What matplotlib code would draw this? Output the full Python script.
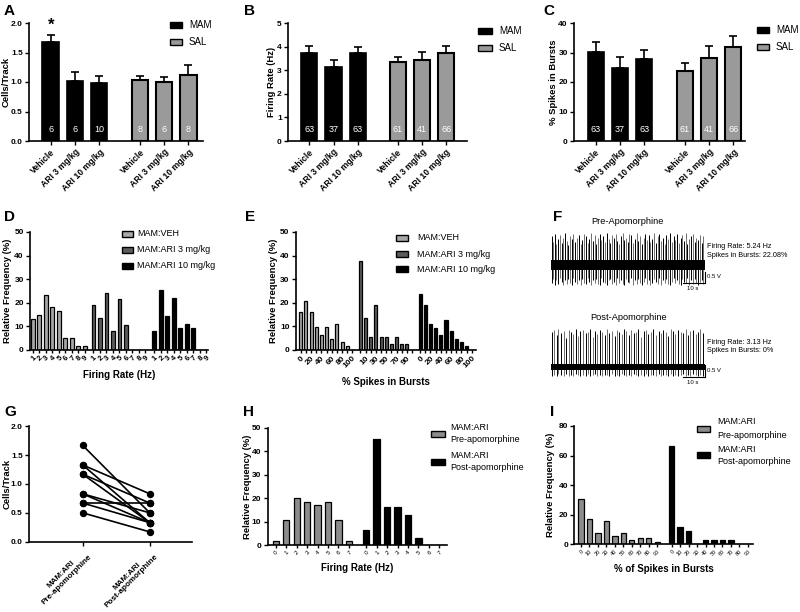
import matplotlib
matplotlib.use('Agg')
import matplotlib.pyplot as plt
from matplotlib.patches import Rectangle
import numpy as np

plt.rcParams['font.family'] = ['Liberation Sans', 'DejaVu Sans']
plt.rcParams['font.weight'] = 'bold'
plt.rcParams['axes.labelweight'] = 'bold'

# ---------------- data ----------------
conditions = ['Vehicle', 'ARI 3 mg/kg', 'ARI 10 mg/kg']
groups_ms = ['MAM', 'SAL']

a_mam = [1.67, 1.02, 0.98]
a_mam_err = [0.13, 0.15, 0.12]
a_sal = [1.04, 1.00, 1.12]
a_sal_err = [0.07, 0.08, 0.16]
a_n_mam = [6, 6, 10]
a_n_sal = [8, 6, 8]

b_mam = [3.73, 3.15, 3.74]
b_mam_err = [0.28, 0.30, 0.24]
b_sal = [3.36, 3.45, 3.74]
b_sal_err = [0.20, 0.32, 0.27]

c_mam = [30.2, 24.6, 27.7]
c_mam_err = [3.3, 3.9, 3.2]
c_sal = [23.8, 28.2, 31.9]
c_sal_err = [2.8, 4.1, 3.7]

bc_n_mam = [63, 37, 63]
bc_n_sal = [61, 41, 66]

d_labels = ['1', '2', '3', '4', '5', '6', '7', '8', '9']
d_veh = [13.0, 15.0, 23.2, 18.2, 16.5, 5.0, 5.0, 1.6, 1.6]
d_ari3 = [19.0, 13.5, 24.2, 8.0, 21.6, 10.8, 0, 0, 0]
d_ari10 = [8.0, 25.4, 14.3, 22.2, 9.5, 11.1, 9.5, 0, 0]
hist_names = ['MAM:VEH', 'MAM:ARI 3 mg/kg', 'MAM:ARI 10 mg/kg']

e_labels = ['0', '10', '20', '30', '40', '50', '60', '70', '80', '90', '100']
e_veh = [16.0, 20.8, 16.0, 9.6, 6.4, 9.6, 4.8, 11.2, 3.2, 1.6, 0]
e_ari3 = [37.8, 13.5, 5.4, 18.9, 5.4, 5.4, 2.7, 5.4, 2.7, 2.7, 0]
e_ari10 = [23.8, 19.0, 11.1, 9.5, 6.3, 12.7, 7.9, 4.8, 3.2, 1.6, 0]

g_pre = [1.67, 1.33, 1.33, 1.17, 1.17, 0.83, 0.83, 0.67, 0.67, 0.50]
g_post = [0.50, 0.83, 0.33, 0.67, 0.33, 0.50, 0.33, 0.67, 0.33, 0.17]
g_labels = ['MAM:ARI\nPre-apomorphine', 'MAM:ARI\nPost-apomorphine']

h_labels = ['0', '1', '2', '3', '4', '5', '6', '7']
h_pre = [1.5, 10.7, 20.2, 18.5, 17.0, 18.5, 10.7, 1.5]
h_post = [6.3, 45.2, 16.1, 16.1, 12.9, 3.2, 0, 0]
apo_names = ['MAM:ARI\nPre-apomorphine', 'MAM:ARI\nPost-apomorphine']

i_labels = ['0', '10', '20', '30', '40', '50', '60', '70', '80', '90']
i_pre = [30.9, 16.9, 7.4, 15.5, 5.9, 7.4, 2.9, 4.5, 4.5, 1.5]
i_post = [66.7, 11.9, 9.0, 0, 3.0, 3.0, 3.0, 3.0, 0, 0]

# electrophysiology traces (spike times in s, peak / trough amplitude in V)
pre_t = [0.3, 1.1, 1.9, 2.4, 3.3, 4.0, 4.9, 5.5, 6.4, 7.3, 7.9, 8.8, 9.6, 10.2, 11.1,
         12.0, 12.6, 13.5, 14.3, 15.0, 15.8, 16.7, 17.4, 18.1, 19.0, 19.8, 20.5, 21.4,
         22.1, 22.9, 23.8, 24.5, 25.3, 26.2, 26.9, 27.7, 28.5, 29.4, 30.1, 30.9, 31.8,
         32.5, 33.3, 34.2, 34.9, 35.6, 36.5, 37.3, 38.1, 38.9, 39.7, 40.4, 41.3, 42.1,
         42.8, 43.7, 44.5, 45.2, 46.1, 46.9, 47.6, 48.5, 49.3, 50.0, 50.9, 51.7, 52.4,
         53.3, 54.1, 54.8, 55.7, 56.5, 57.2, 58.1, 58.9, 59.6, 60.5, 61.3, 62.0, 62.9,
         63.7, 64.4, 65.3, 66.1, 66.8, 67.7, 68.5, 69.3]
pre_up = [1.30, 1.05, 1.40, 0.95, 1.20, 1.35, 1.00, 1.25, 1.45, 1.10, 0.90, 1.30, 1.20,
          1.40, 1.05, 1.25, 1.35, 0.95, 1.15, 1.40, 1.30, 1.00, 1.20, 1.45, 1.10, 1.35,
          0.95, 1.25, 1.40, 1.15, 1.30, 1.05, 1.45, 1.20, 1.00, 1.35, 1.25, 1.40, 1.10,
          0.95, 1.30, 1.45, 1.15, 1.25, 1.05, 1.40, 1.35, 1.00, 1.20, 1.45, 1.10, 1.30,
          0.95, 1.25, 1.40, 1.15, 1.35, 1.05, 1.20, 1.45, 1.00, 1.30, 1.40, 1.10, 1.25,
          0.95, 1.35, 1.20, 1.45, 1.05, 1.30, 1.15, 1.40, 1.00, 1.25, 1.35, 1.10, 1.45,
          0.95, 1.20, 1.30, 1.40, 1.05, 1.25, 1.15, 1.35, 1.00, 1.30]
pre_down = [0.80, 0.65, 0.90, 0.70, 0.85, 0.60, 0.75, 0.90, 0.70, 0.85, 0.65, 0.80, 0.90,
            0.60, 0.75, 0.85, 0.70, 0.90, 0.65, 0.80, 0.85, 0.60, 0.75, 0.90, 0.70, 0.80,
            0.65, 0.85, 0.90, 0.60, 0.75, 0.80, 0.90, 0.70, 0.65, 0.85, 0.75, 0.90, 0.60,
            0.80, 0.70, 0.85, 0.90, 0.65, 0.75, 0.80, 0.60, 0.90, 0.70, 0.85, 0.65, 0.80,
            0.90, 0.75, 0.60, 0.85, 0.70, 0.90, 0.80, 0.65, 0.75, 0.85, 0.60, 0.90, 0.70,
            0.80, 0.65, 0.85, 0.90, 0.75, 0.60, 0.80, 0.70, 0.85, 0.90, 0.65, 0.75, 0.80,
            0.60, 0.90, 0.70, 0.85, 0.65, 0.80, 0.90, 0.75, 0.70, 0.85]
post_t = [0.4, 1.5, 2.6, 3.4, 4.6, 5.9, 6.8, 8.0, 9.1, 10.0, 11.3, 12.4, 13.2, 14.5, 15.7,
          16.6, 17.8, 18.9, 19.8, 21.0, 22.3, 23.1, 24.4, 25.6, 26.5, 27.8, 28.9, 29.8,
          31.1, 32.2, 33.0, 34.3, 35.5, 36.4, 37.7, 38.8, 39.7, 41.0, 42.2, 43.1, 44.3,
          45.6, 46.5, 47.7, 48.9, 49.8, 51.1, 52.3, 53.2, 54.4, 55.6, 56.5, 57.8, 59.0,
          59.9, 61.2, 62.4, 63.3, 64.5, 65.7, 66.6, 67.9, 69.1]
post_up = [1.60, 1.70, 1.45, 1.75, 1.55, 1.65, 1.30, 1.70, 1.60, 1.50, 1.75, 1.40, 1.65,
           1.70, 1.55, 1.60, 1.75, 1.35, 1.65, 1.50, 1.70, 1.60, 1.45, 1.75, 1.55, 1.65,
           1.40, 1.70, 1.60, 1.50, 1.75, 1.65, 1.45, 1.70, 1.55, 1.60, 1.75, 1.35, 1.65,
           1.70, 1.50, 1.60, 1.75, 1.45, 1.65, 1.55, 1.70, 1.60, 1.40, 1.75, 1.65, 1.50,
           1.70, 1.60, 1.55, 1.75, 1.45, 1.65, 1.70, 1.50, 1.60, 1.75, 1.55]
post_down = [0.40, 0.35, 0.42, 0.30, 0.38, 0.40, 0.33, 0.42, 0.36, 0.40, 0.30, 0.38, 0.42,
             0.35, 0.40, 0.33, 0.42, 0.38, 0.30, 0.40, 0.36, 0.42, 0.35, 0.38, 0.40, 0.30,
             0.42, 0.36, 0.40, 0.33, 0.38, 0.42, 0.35, 0.40, 0.30, 0.38, 0.42, 0.36, 0.40,
             0.33, 0.42, 0.38, 0.35, 0.40, 0.30, 0.42, 0.36, 0.38, 0.40, 0.33, 0.42, 0.35,
             0.40, 0.38, 0.30, 0.42, 0.36, 0.40, 0.33, 0.38, 0.42, 0.35, 0.40]

# ---------------- figure helpers ----------------
W, H = 800, 612
fig = plt.figure(figsize=(8, 6.12), dpi=100)

SAL_GRAY = '#9a9a9a'
VEH_GRAY = '#a8a8a8'
ARI3_GRAY = '#5c5c5c'
PRE_GRAY = '#8c8c8c'


def axpx(l, t, r, b):
    ax = fig.add_axes([l / W, 1 - b / H, (r - l) / W, (b - t) / H])
    ax._box_px = (l, t, r, b)
    return ax


def ylabel_px(ax, text, xpx, fs=6.8):
    # xpx: right edge (baseline side) of the rotated label, in figure pixels
    l, t, r, b = ax._box_px
    ax.set_ylabel(text, fontsize=fs)
    ax.yaxis.set_label_coords((xpx - l) / (r - l), 0.5)


def style(ax, lw=1.2):
    ax.spines['top'].set_visible(False)
    ax.spines['right'].set_visible(False)
    ax.spines['left'].set_linewidth(lw)
    ax.spines['bottom'].set_linewidth(lw)
    ax.tick_params(direction='out', length=3, width=1.0, labelsize=6.0, pad=1.5)


def ftext(x, y, s, **kw):
    fig.text(x / W, 1 - y / H, s, **kw)


def fbox(x0, x1, yc, h, fc):
    fig.add_artist(Rectangle((x0 / W, 1 - (yc + h / 2) / H), (x1 - x0) / W, h / H,
                             transform=fig.transFigure, facecolor=fc,
                             edgecolor='black', linewidth=1.0))


def panel_letter(x, y, s):
    ftext(x, y, s, fontsize=11, fontweight='bold', va='center', ha='left')


def bar_panel(box, mam, mam_err, sal, sal_err, n_mam, n_sal, ytop, yticks, ylabels,
              ylabel, ylab_x, xlim, gap):
    ax = axpx(*box)
    style(ax)
    xm = np.arange(len(mam))
    xs = xm + gap
    ax.bar(xm, mam, 0.67, color='black', edgecolor='black', lw=1.2, zorder=2)
    ax.bar(xs, sal, 0.67, color=SAL_GRAY, edgecolor='black', lw=1.5, zorder=2)
    ax.errorbar(xm, mam, yerr=[np.zeros(len(mam)), mam_err], fmt='none', ecolor='black',
                elinewidth=1.2, capsize=3, capthick=1.2, zorder=3)
    ax.errorbar(xs, sal, yerr=[np.zeros(len(sal)), sal_err], fmt='none', ecolor='black',
                elinewidth=1.2, capsize=3, capthick=1.2, zorder=3)
    for x, n in zip(list(xm) + list(xs), list(n_mam) + list(n_sal)):
        ax.text(x, ytop * 0.095, str(n), color='white', ha='center', va='center',
                fontsize=6.5, fontweight='normal', zorder=4)
    ax.set_ylim(0, ytop)
    ax.set_yticks(yticks)
    ax.set_yticklabels(ylabels)
    ax.set_xlim(*xlim)
    ax.set_xticks(list(xm) + list(xs))
    ax.set_xticklabels(conditions * 2, rotation=45, ha='right', rotation_mode='anchor',
                       fontsize=6.2)
    ylabel_px(ax, ylabel, ylab_x)
    return ax


def hist_panel(box, groups, colors, offset, width, xlim, ytop, yticks, labels, ylabel,
               ylab_x, xlabel, lab_fs, lab_every=1, lab_weight='bold'):
    ax = axpx(*box)
    style(ax)
    ticks, tlabels = [], []
    k = 0
    for g, (vals, c) in enumerate(zip(groups, colors)):
        x = np.arange(len(vals)) + g * offset
        ax.bar(x, vals, width, color=c, edgecolor='black', lw=0.9, zorder=2)
        for xi, lab in zip(x, labels):
            ticks.append(xi)
            tlabels.append(lab if k % lab_every == 0 else '')
            k += 1
    ax.set_xlim(*xlim)
    ax.set_ylim(0, ytop)
    ax.set_yticks(yticks)
    ax.set_xticks(ticks)
    ax.set_xticklabels(tlabels, rotation=45, ha='right', rotation_mode='anchor',
                       fontsize=lab_fs, fontweight=lab_weight)
    ax.tick_params(axis='x', length=2.5, pad=1)
    ylabel_px(ax, ylabel, ylab_x)
    ax.set_xlabel(xlabel, fontsize=7, labelpad=5)
    return ax


# ---------------- A, B, C ----------------
bar_panel((29, 23, 203, 141), a_mam, a_mam_err, a_sal, a_sal_err, a_n_mam, a_n_sal,
          2.0, [0, 0.5, 1.0, 1.5, 2.0], ['0.0', '0.5', '1.0', '1.5', '2.0'],
          'Cells/Track', 11, (-0.89, 6.27), 3.67)
ftext(50.7, 25, '*', fontsize=12, ha='center', va='center')
bar_panel((288, 23, 467, 141), b_mam, b_mam_err, b_sal, b_sal_err, bc_n_mam, bc_n_sal,
          5, [0, 1, 2, 3, 4, 5], ['0', '1', '2', '3', '4', '5'],
          'Firing Rate (Hz)', 276, (-0.88, 6.5), 3.64)
bar_panel((574, 23, 745, 141), c_mam, c_mam_err, c_sal, c_sal_err, bc_n_mam, bc_n_sal,
          40, [0, 10, 20, 30, 40], ['0', '10', '20', '30', '40'],
          '% Spikes in Bursts', 558, (-0.9, 6.17), 3.69)

for (x0, x1, tx, ys) in [(170, 182, 189, (25, 42)), (478, 492, 499, (31, 48)),
                         (757, 769, 776, (30, 47))]:
    for name, col, y in zip(groups_ms, ['black', SAL_GRAY], ys):
        fbox(x0, x1, y, 6, col)
        ftext(tx, y, name, fontsize=7, fontweight='normal', va='center')

# ---------------- D, E ----------------
hist_panel((30, 232, 208, 350), [d_veh, d_ari3, d_ari10], [VEH_GRAY, ARI3_GRAY, 'black'],
           9.35, 0.55, (-0.42, 26.97), 50, [0, 10, 20, 30, 40, 50], d_labels,
           'Relative Frequency (%)', 12, 'Firing Rate (Hz)', 5.5)
hist_panel((295.7, 232, 475.7, 350), [e_veh, e_ari3, e_ari10], [VEH_GRAY, ARI3_GRAY, 'black'],
           11.55, 0.6, (-0.97, 33.85), 50, [0, 10, 20, 30, 40, 50], e_labels,
           'Relative Frequency (%)', 278, '% Spikes in Bursts', 6.0, lab_every=2)
for (x0, x1, tx, ys) in [(122, 133, 137, (234, 250, 266)), (396, 408, 417, (238, 254, 269))]:
    for name, col, y in zip(hist_names, [VEH_GRAY, ARI3_GRAY, 'black'], ys):
        fbox(x0, x1, y, 6, col)
        ftext(tx, y, name, fontsize=6.5, fontweight='normal', va='center')

# ---------------- F traces ----------------
def trace(box, center_px, t, up, down, band, band_col, bar_lo, bar_hi):
    l, t0, r, b = box
    ax = axpx(l, t0, r, b)
    ax.axis('off')
    ax.set_xlim(0, 70)
    ax.set_ylim(-(b - center_px) / 22.0, (center_px - t0) / 22.0)
    cols = ['black', '#707070']
    for i, (ti, u, d) in enumerate(zip(t, up, down)):
        ax.vlines(ti, -d, u, color=cols[i % 2], lw=0.7)
    ax.fill_between([0, 70], -band, band, color=band_col, lw=0, zorder=3)
    ax.plot([70, 70], [bar_lo, bar_hi], color='black', lw=0.8, clip_on=False)
    ax.plot([60, 70], [bar_lo, bar_lo], color='black', lw=0.8, clip_on=False)
    return ax


trace((551, 228, 705, 292), 265, pre_t, pre_up, pre_down, 0.23, 'black', -0.82, -0.32)
trace((551, 322, 705, 386), 367, post_t, post_up, post_down, 0.14, 'black', -0.45, 0.09)
ftext(627, 222, 'Pre-Apomorphine', fontsize=6.7, fontweight='normal', ha='center', va='center')
ftext(629, 317, 'Post-Apomorphine', fontsize=6.7, fontweight='normal', ha='center', va='center')
ftext(707, 246, 'Firing Rate: 5.24 Hz', fontsize=5.2, fontweight='normal', va='center')
ftext(707, 255, 'Spikes in Bursts: 22.08%', fontsize=5.2, fontweight='normal', va='center')
ftext(707, 342, 'Firing Rate: 3.13 Hz', fontsize=5.2, fontweight='normal', va='center')
ftext(707, 350, 'Spikes in Bursts: 0%', fontsize=5.2, fontweight='normal', va='center')
ftext(707, 277, '0.5 V', fontsize=4.3, fontweight='normal', va='center')
ftext(693, 288, '10 s', fontsize=4.3, fontweight='normal', va='center', ha='center')
ftext(707, 371, '0.5 V', fontsize=4.3, fontweight='normal', va='center')
ftext(693, 382, '10 s', fontsize=4.3, fontweight='normal', va='center', ha='center')

# ---------------- G ----------------
axg = axpx(29, 426.3, 192, 541.7)
style(axg)
for p, q in zip(g_pre, g_post):
    axg.plot([0, 1], [p, q], color='black', lw=1.2, marker='o', markersize=4.3, zorder=3)
axg.set_xlim(-0.8, 1.63)
axg.set_ylim(0, 2.0)
axg.set_yticks([0, 0.5, 1.0, 1.5, 2.0])
axg.set_yticklabels(['0.0', '0.5', '1.0', '1.5', '2.0'])
axg.set_xticks([0, 1])
axg.set_xticklabels(g_labels, rotation=45, ha='right', va='top', rotation_mode='anchor',
                    multialignment='center', fontsize=5.9, linespacing=1.05)
ylabel_px(axg, 'Cells/Track', 11.5)

# ---------------- H, I ----------------
hist_panel((267.5, 428, 447, 545), [h_pre, h_post], [PRE_GRAY, 'black'], 8.66, 0.6,
           (-0.79, 16.4), 50, [0, 10, 20, 30, 40, 50], h_labels,
           'Relative Frequency (%)', 251.5, 'Firing Rate (Hz)', 4.5, lab_weight='normal')
hist_panel((574.3, 426, 752.7, 544.3), [i_pre, i_post], [PRE_GRAY, 'black'], 10.7, 0.62,
           (-0.79, 20.27), 80, [0, 20, 40, 60, 80], i_labels,
           'Relative Frequency (%)', 555, '% of Spikes in Bursts', 4.0, lab_weight='normal')
for (x0, x1, tx, ys, ty) in [(431, 445, 450, (434, 462), ((428, 440), (456, 467))),
                             (697, 710, 717, (429, 455), ((422, 435), (449, 462)))]:
    for name, col, y, (y1, y2) in zip(apo_names, [PRE_GRAY, 'black'], ys, ty):
        fbox(x0, x1, y, 6, col)
        l1, l2 = name.split('\n')
        ftext(tx, y1, l1, fontsize=6.5, fontweight='normal', va='center')
        ftext(tx, y2, l2, fontsize=6.5, fontweight='normal', va='center')

# ---------------- panel letters ----------------
for x, y, s in [(4, 11, 'A'), (244, 11, 'B'), (543, 11, 'C'),
                (4, 217, 'D'), (245, 217, 'E'), (553, 217, 'F'),
                (4, 412, 'G'), (243, 412, 'H'), (550, 412, 'I')]:
    panel_letter(x, y, s)

fig.savefig('out.png', dpi=100)
